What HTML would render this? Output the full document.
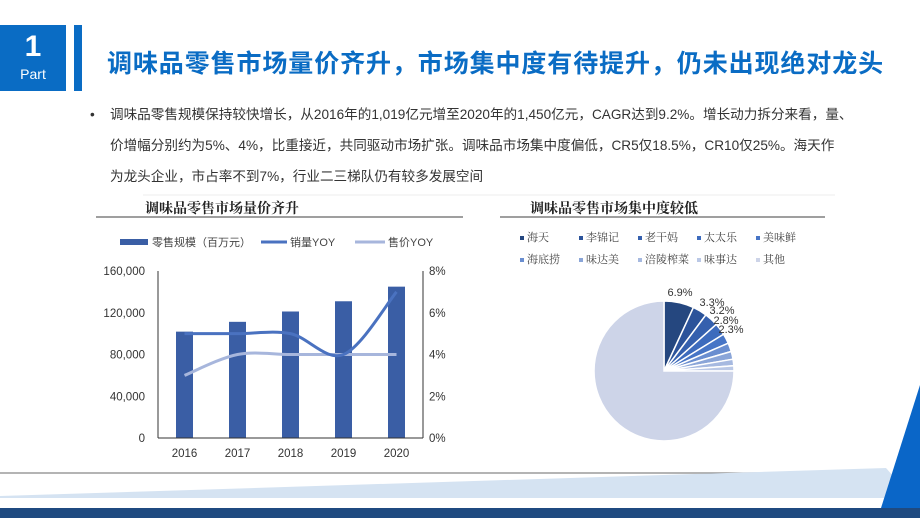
<!DOCTYPE html>
<html><head><meta charset="utf-8">
<style>
body{margin:0;width:920px;height:518px;overflow:hidden;background:#fff;font-family:"Liberation Sans","Noto Sans CJK SC",sans-serif;position:relative}
.abs{position:absolute}
</style></head><body>
<div class="abs" style="left:0;top:25px;width:66px;height:66px;background:#0a6cc4;color:#fff;text-align:center">
 <div style="font-size:30px;font-weight:bold;line-height:36px;margin-top:4px">1</div>
 <div style="font-size:14px;line-height:18px">Part</div>
</div>
<div class="abs" style="left:74px;top:25px;width:8px;height:66px;background:#0a6cc4"></div>
<div class="abs" style="left:107px;top:44px;font-size:25px;font-weight:bold;color:#0a6cc4;letter-spacing:0.9px;white-space:nowrap">调味品零售市场量价齐升，市场集中度有待提升，仍未出现绝对龙头</div>
<div class="abs" style="left:90px;top:99px;width:800px;font-size:13.6px;color:#333;line-height:31px;white-space:nowrap">
 <span style="position:absolute;left:0">•</span>
 <div style="margin-left:20px">调味品零售规模保持较快增长，从2016年的1,019亿元增至2020年的1,450亿元，CAGR达到9.2%。增长动力拆分来看，量、<br>价增幅分别约为5%、4%，比重接近，共同驱动市场扩张。调味品市场集中度偏低，CR5仅18.5%，CR10仅25%。海天作<br>为龙头企业，市占率不到7%，行业二三梯队仍有较多发展空间</div>
</div>

<svg class="abs" style="left:0;top:0" width="920" height="518">
 <line x1="143" y1="195" x2="835" y2="195" stroke="#eee"/>
 <line x1="96" y1="217" x2="463" y2="217" stroke="#666" stroke-width="1.2"/>
 <line x1="500" y1="217" x2="825" y2="217" stroke="#666" stroke-width="1.2"/>
 <text x="145" y="213" font-size="14" font-weight="bold" fill="#222" font-family="Liberation Serif,Noto Serif CJK SC,serif">调味品零售市场量价齐升</text>
 <text x="530" y="213" font-size="14" font-weight="bold" fill="#222" font-family="Liberation Serif,Noto Serif CJK SC,serif">调味品零售市场集中度较低</text>
 <g id="bar"></g>
 <g id="pie"></g>
 <line x1="0" y1="473" x2="846" y2="473" stroke="#888" stroke-width="1.2"/>
 <polygon points="0,496 886,468 913,498 0,498" fill="#d5e3f2"/>
 <polygon points="881,508 920,385 920,508" fill="#0a66c8"/>
 <rect x="0" y="508" width="920" height="10" fill="#1f4a80"/>
</svg>

<script>
const years=["2016","2017","2018","2019","2020"];
const retail=[101900,111300,121200,131000,145000];
const volYoy=[5,5,5,4,7];
const priceYoy=[3,4,4,4,4];
const leftTicks=[0,40000,80000,120000,160000];
const rightTicks=[0,2,4,6,8];
const pieNames=["海天","李锦记","老干妈","太太乐","美味鲜","海底捞","味达美","涪陵榨菜","味事达","其他"];
const pieVals=[6.9,3.3,3.2,2.8,2.3,2.0,1.8,1.5,1.2,75];
const pieLabels=["6.9%","3.3%","3.2%","2.8%","2.3%","","","","",""];

const NS="http://www.w3.org/2000/svg";
function mk(p,t,a){const e=document.createElementNS(NS,t);for(const k in a)e.setAttribute(k,a[k]);p.appendChild(e);return e;}
const bar=document.getElementById('bar');
const x0=158,x1=423,yb=438,yt=271;
const xs=i=>x0+(i+0.5)*(x1-x0)/years.length;
const yL=v=>yb-v/160000*(yb-yt);
const yR=v=>yb-v/8*(yb-yt);
leftTicks.forEach(v=>{const t=mk(bar,'text',{x:145,y:yL(v)+4,'text-anchor':'end','font-size':11.5,fill:'#333'});t.textContent=v.toLocaleString('en-US');

});
rightTicks.forEach(v=>{const t=mk(bar,'text',{x:429,y:yR(v)+4,'font-size':11.5,fill:'#333'});t.textContent=v+'%';

});
years.forEach((y,i)=>{const r=mk(bar,'rect',{x:xs(i)-8.5,y:yL(retail[i]),width:17,height:yb-yL(retail[i]),fill:'#3a5ea5'});


const t=mk(bar,'text',{x:xs(i),y:457,'text-anchor':'middle','font-size':11.5,fill:'#333'});t.textContent=y;

});
mk(bar,'line',{x1:x0,y1:yt,x2:x0,y2:yb,stroke:'#333'});
mk(bar,'line',{x1:x1,y1:yt,x2:x1,y2:yb,stroke:'#333'});
mk(bar,'line',{x1:x0,y1:yb,x2:x1,y2:yb,stroke:'#333'});
function smooth(vals){const p=vals.map((v,i)=>[xs(i),yR(v)]);let d='M'+p[0];for(let i=0;i<p.length-1;i++){const a=p[i-1]||p[i],b=p[i],c=p[i+1],e=p[i+2]||c;d+=` C${b[0]+(c[0]-a[0])/6},${b[1]+(c[1]-a[1])/6} ${c[0]-(e[0]-b[0])/6},${c[1]-(e[1]-b[1])/6} ${c[0]},${c[1]}`;}return d;}
const l2=mk(bar,'path',{d:smooth(priceYoy),fill:'none',stroke:'#a7b6dc','stroke-width':3});


const l1=mk(bar,'path',{d:smooth(volYoy),fill:'none',stroke:'#4a72c0','stroke-width':3});


mk(bar,'rect',{x:120,y:239,width:28,height:6,fill:'#3a5ea5'});
let t=mk(bar,'text',{x:152,y:246,'font-size':11,fill:'#444'});t.textContent='零售规模（百万元）';


mk(bar,'line',{x1:261,y1:242,x2:287,y2:242,stroke:'#4a72c0','stroke-width':3});
t=mk(bar,'text',{x:290,y:246,'font-size':11,fill:'#444'});t.textContent='销量YOY';


mk(bar,'line',{x1:355,y1:242,x2:385,y2:242,stroke:'#a7b6dc','stroke-width':3});
t=mk(bar,'text',{x:388,y:246,'font-size':11,fill:'#444'});t.textContent='售价YOY';



const pie=document.getElementById('pie');
const cx=664,cy=371,R=70;
const cols=["#25477f","#2c539a","#3560ae","#3d6bbd","#4775c6","#6a8ed0","#8aa5d8","#a6b9e0","#bac8e6","#cdd4e8"];
const tot=pieVals.reduce((a,b)=>a+b,0);
let ang=0;
pieVals.forEach((v,i)=>{const a0=ang/tot*2*Math.PI,a1=(ang+v)/tot*2*Math.PI;ang+=v;
const p0=[cx+R*Math.sin(a0),cy-R*Math.cos(a0)],p1=[cx+R*Math.sin(a1),cy-R*Math.cos(a1)];
const s=mk(pie,'path',{d:`M${cx},${cy} L${p0} A${R},${R} 0 ${a1-a0>Math.PI?1:0} 1 ${p1} Z`,fill:cols[i],stroke:'#fff','stroke-width':1.5});

});
const lp=[[680,296],[712,306],[722,314],[726,324],[731,333]];
pieLabels.forEach((l,i)=>{if(!l)return;const t=mk(pie,'text',{x:lp[i][0],y:lp[i][1],'font-size':11,'text-anchor':'middle',fill:'#333'});t.textContent=l;

});
const lx=[522,581,640,699,758];
pieNames.forEach((n,i)=>{const x=lx[i%5],y=i<5?240:262;
mk(pie,'rect',{x:x-2,y:y-4,width:4,height:4,fill:cols[i]});
const t=mk(pie,'text',{x:x+5,y:y+1,'font-size':11,fill:'#444','font-family':'Liberation Serif,Noto Serif CJK SC,serif'});t.textContent=n;

});
</script>
</body></html>
